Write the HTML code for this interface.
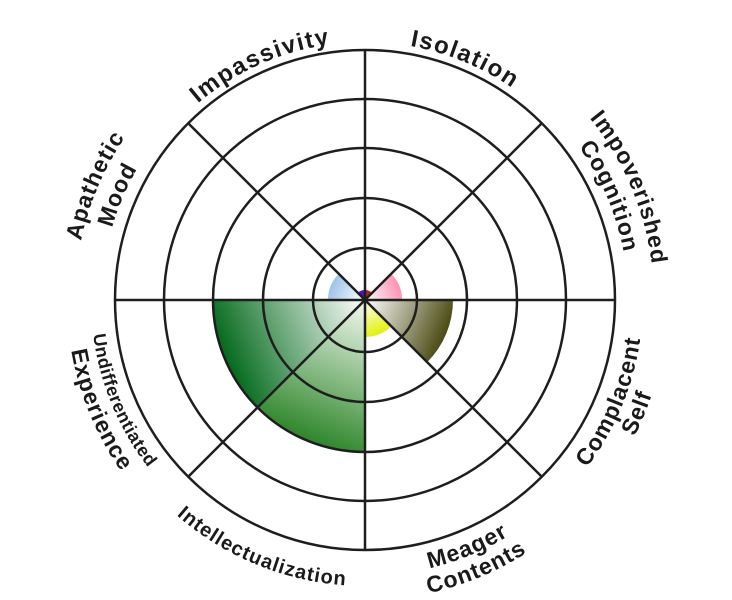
<!DOCTYPE html>
<html><head><meta charset="utf-8"><style>
html,body{margin:0;padding:0;background:#fff;width:732px;height:600px;overflow:hidden}
text{font-family:"Liberation Sans",sans-serif;font-weight:bold;fill:#1a1a1a}
</style></head><body>
<svg width="732" height="600" viewBox="0 0 732 600" xmlns="http://www.w3.org/2000/svg">
<defs>
<linearGradient id="gU" gradientUnits="userSpaceOnUse" x1="365" y1="300" x2="225" y2="358"><stop offset="0" stop-color="#ffffff"/><stop offset="1" stop-color="#036a1c"/></linearGradient>
<linearGradient id="gI" gradientUnits="userSpaceOnUse" x1="365" y1="300" x2="307" y2="440"><stop offset="0" stop-color="#f4faf2"/><stop offset="1" stop-color="#2e862a"/></linearGradient>
<linearGradient id="gC" gradientUnits="userSpaceOnUse" x1="365" y1="300" x2="446" y2="334"><stop offset="0" stop-color="#ffffff"/><stop offset="1" stop-color="#4a4a12"/></linearGradient>
<linearGradient id="gY" gradientUnits="userSpaceOnUse" x1="365" y1="300" x2="380" y2="335"><stop offset="0" stop-color="#ffffff"/><stop offset="1" stop-color="#e2f000"/></linearGradient>
<linearGradient id="gP" gradientUnits="userSpaceOnUse" x1="365" y1="300" x2="399" y2="286"><stop offset="0" stop-color="#ffffff"/><stop offset="1" stop-color="#ff90b4"/></linearGradient>
<linearGradient id="gB" gradientUnits="userSpaceOnUse" x1="365" y1="300" x2="331" y2="286"><stop offset="0" stop-color="#ffffff"/><stop offset="1" stop-color="#9ec3e8"/></linearGradient>
</defs>
<g>
<path d="M365 300 L213 300 A152 152 0 0 0 257.5 407.5 Z" fill="url(#gU)" stroke="#fff" stroke-width="1.5"/>
<path d="M365 300 L257.5 407.5 A152 152 0 0 0 365 452 Z" fill="url(#gI)" stroke="#fff" stroke-width="1.5"/>
<path d="M365 300 L453 300 A88 88 0 0 1 427.2 362.2 Z" fill="url(#gC)"/>
<path d="M365 300 L391.2 326.2 A37 37 0 0 1 365 337 Z" fill="url(#gY)"/>
<path d="M365 300 L391.2 273.8 A37 37 0 0 1 402 300 Z" fill="url(#gP)"/>
<path d="M365 300 L328 300 A37 37 0 0 1 338.8 273.8 Z" fill="url(#gB)"/>
<path d="M365 300 L365 290 A10 10 0 0 1 372.1 292.9 Z" fill="#b3222a"/>
<path d="M365 300 L357.9 292.9 A10 10 0 0 1 365 290 Z" fill="#4a10c8"/>
</g>
<g fill="none" stroke="#1e1e1e" stroke-width="2.5">
<circle cx="365" cy="300" r="52"/>
<circle cx="365" cy="300" r="102"/>
<circle cx="365" cy="300" r="152"/>
<circle cx="365" cy="300" r="201"/>
<circle cx="365" cy="300" r="250"/>
<line x1="115" y1="300" x2="615" y2="300"/>
<line x1="365" y1="50" x2="365" y2="550"/>
<line x1="188.2" y1="123.2" x2="541.8" y2="476.8"/>
<line x1="188.2" y1="476.8" x2="541.8" y2="123.2"/>
</g>
<script>
(function(){
var cx=365,cy=300,ns="http://www.w3.org/2000/svg",svg=document.querySelector('svg'),defs=svg.querySelector('defs');
var n=0;
function P(a,r){var t=a*Math.PI/180;return [(cx+r*Math.cos(t)).toFixed(2),(cy+r*Math.sin(t)).toFixed(2)];}
function lab(txt,mid,r,cw,size,ls){
 var a1=cw?mid-60:mid+60,a2=cw?mid+60:mid-60;
 var p1=P(a1,r),p2=P(a2,r);
 var id='lp'+(n++);
 var path=document.createElementNS(ns,'path');
 path.setAttribute('id',id);
 path.setAttribute('d','M '+p1[0]+' '+p1[1]+' A '+r+' '+r+' 0 0 '+(cw?1:0)+' '+p2[0]+' '+p2[1]);
 defs.appendChild(path);
 var t=document.createElementNS(ns,'text');
 t.setAttribute('font-size',size);
 t.setAttribute('letter-spacing',ls);
 t.setAttribute('text-anchor','middle');
 var tp=document.createElementNS(ns,'textPath');
 tp.setAttribute('href','#'+id);
 tp.setAttribute('startOffset','50%');
 tp.textContent=txt;
 t.appendChild(tp);
 svg.appendChild(t);
}
lab('Impassivity',246,258,true,24,1.5);
lab('Isolation',292.5,258,true,24,1.5);
lab('Impoverished',337,289,true,23,1);
lab('Cognition',337,263,true,23,1);
lab('Apathetic',203,290,true,23,1);
lab('Mood',203,263,true,23,1);
lab('Complacent',22.5,278,false,23,1);
lab('Self',22.5,302,false,23,1);
lab('Meager',67.5,276,false,23,1);
lab('Contents',67.5,300,false,23,1);
lab('Intellectualization',112.5,286,false,20,1);
lab('Undifferentiated',157.5,274,false,18,0.5);
lab('Experience',157.5,298,false,23,1);
})();
</script>
</svg>
</body></html>
